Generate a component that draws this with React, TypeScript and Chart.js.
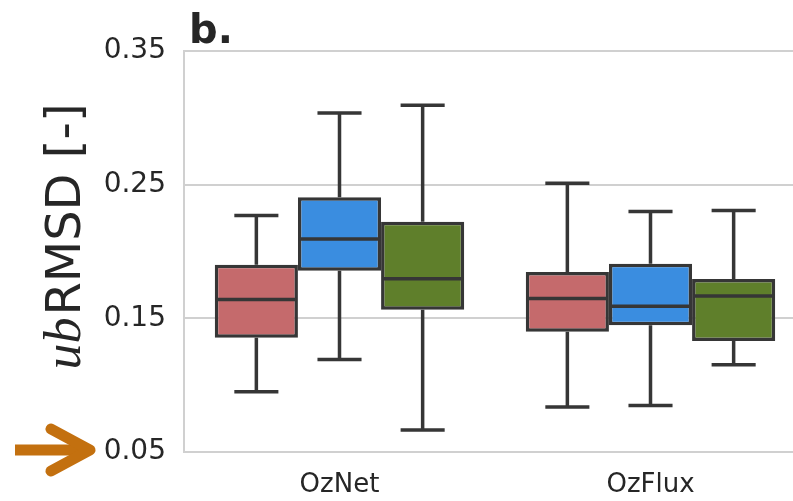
import React, { useEffect, useRef } from "react";
import { Chart, registerables } from "chart.js";

Chart.register(...registerables);

const categories = ["OzNet", "OzFlux"];
const yTickValues = [0.05, 0.15, 0.25, 0.35];

const redMin = [0.0951, 0.0836];
const redQ1 = [0.1354, 0.1399];
const redMedian = [0.164, 0.1649];
const redQ3 = [0.19, 0.1846];
const redMax = [0.2269, 0.251];

const blueMin = [0.1192, 0.0848];
const blueQ1 = [0.1856, 0.1448];
const blueMedian = [0.2093, 0.159];
const blueQ3 = [0.2406, 0.1908];
const blueMax = [0.3037, 0.2299];

const greenMin = [0.0664, 0.1152];
const greenQ1 = [0.1565, 0.1331];
const greenMedian = [0.1796, 0.1667];
const greenQ3 = [0.2222, 0.1794];
const greenMax = [0.3095, 0.2306];

const EDGE = "#363636";
const GRID = "#d0d0d0";

const series = [
  { label: "Red", color: "#c56a6c", min: redMin, q1: redQ1, med: redMedian, q3: redQ3, max: redMax },
  { label: "Blue", color: "#3a8de0", min: blueMin, q1: blueQ1, med: blueMedian, q3: blueQ3, max: blueMax },
  { label: "Green", color: "#5f7f2b", min: greenMin, q1: greenQ1, med: greenMedian, q3: greenQ3, max: greenMax },
];

const boxPlugin = {
  id: "boxWhiskers",
  beforeDatasetsDraw(chart: any) {
    const ctx = chart.ctx;
    const y = chart.scales.y;
    ctx.save();
    ctx.strokeStyle = EDGE;
    ctx.lineWidth = 3.5;
    ctx.lineCap = "butt";
    series.forEach((s, di) => {
      const meta = chart.getDatasetMeta(di);
      meta.data.forEach((el: any, i: number) => {
        const { x, width } = el.getProps(["x", "width"], true);
        const pMin = y.getPixelForValue(s.min[i]);
        const pQ1 = y.getPixelForValue(s.q1[i]);
        const pQ3 = y.getPixelForValue(s.q3[i]);
        const pMax = y.getPixelForValue(s.max[i]);
        const cap = width * 0.53;
        ctx.beginPath();
        ctx.moveTo(x, pQ3);
        ctx.lineTo(x, pMax);
        ctx.moveTo(x, pQ1);
        ctx.lineTo(x, pMin);
        ctx.moveTo(x - cap / 2, pMax);
        ctx.lineTo(x + cap / 2, pMax);
        ctx.moveTo(x - cap / 2, pMin);
        ctx.lineTo(x + cap / 2, pMin);
        ctx.stroke();
      });
    });
    ctx.restore();
  },
  afterDatasetsDraw(chart: any) {
    const ctx = chart.ctx;
    const y = chart.scales.y;
    ctx.save();
    ctx.strokeStyle = EDGE;
    ctx.lineWidth = 3.5;
    series.forEach((s, di) => {
      const meta = chart.getDatasetMeta(di);
      meta.data.forEach((el: any, i: number) => {
        const { x, width } = el.getProps(["x", "width"], true);
        const pMed = y.getPixelForValue(s.med[i]);
        ctx.beginPath();
        ctx.moveTo(x - width / 2 + 1, pMed);
        ctx.lineTo(x + width / 2 - 1, pMed);
        ctx.stroke();
      });
    });
    ctx.restore();
  },
  afterDraw(chart: any) {
    const ctx = chart.ctx;
    const area = chart.chartArea;
    const y = chart.scales.y;
    ctx.save();
    // panel title
    ctx.fillStyle = "#262626";
    ctx.font = "bold 40px 'DejaVu Sans'";
    ctx.textAlign = "left";
    ctx.textBaseline = "alphabetic";
    ctx.fillText("b.", area.left + 5, area.top - 8);

    // y axis label with italic "ub"
    const cy = (area.top + area.bottom) / 2 - 14;
    ctx.translate(80, cy);
    ctx.rotate(-Math.PI / 2);
    const f1 = "italic 52px 'Liberation Serif'";
    const f2 = "48px 'DejaVu Sans'";
    ctx.font = f1;
    const w1 = ctx.measureText("ub").width;
    ctx.font = f2;
    const w2 = ctx.measureText("RMSD [-]").width;
    const start = -(w1 + w2) / 2;
    ctx.font = f1;
    ctx.fillText("ub", start, 0);
    ctx.font = f2;
    ctx.fillText("RMSD [-]", start + w1 + 2, 0);
    ctx.restore();

    // orange arrow pointing at lowest tick
    const ay = y.getPixelForValue(yTickValues[0]) - 2;
    ctx.save();
    ctx.strokeStyle = "#c3700f";
    ctx.lineWidth = 11;
    ctx.lineCap = "butt";
    ctx.beginPath();
    ctx.moveTo(15, ay);
    ctx.lineTo(88, ay);
    ctx.stroke();
    ctx.lineCap = "round";
    ctx.lineJoin = "round";
    ctx.beginPath();
    ctx.moveTo(51, ay - 21);
    ctx.lineTo(90, ay);
    ctx.lineTo(51, ay + 21);
    ctx.stroke();
    ctx.restore();
  },
};

export default function App() {
  const ref = useRef<HTMLCanvasElement | null>(null);
  useEffect(() => {
    if (!ref.current) return;
    const chart = new Chart(ref.current, {
      type: "bar",
      data: {
        labels: categories,
        datasets: series.map((s) => ({
          label: s.label,
          data: s.q1.map((v, i) => [v, s.q3[i]]),
          backgroundColor: s.color,
          borderColor: EDGE,
          borderWidth: 3.5,
          borderSkipped: false,
          categoryPercentage: 0.802,
          barPercentage: 1,
        })),
      },
      options: {
        responsive: false,
        animation: false,
        layout: { padding: { top: 51, right: 4, left: 0, bottom: 0 } },
        plugins: { legend: { display: false }, tooltip: { enabled: false }, title: { display: false } },
        scales: {
          x: {
            offset: true,
            grid: { display: false },
            border: { display: false },
            ticks: {
              color: "#262626",
              font: { family: "'DejaVu Sans'", size: 26 },
              padding: 10,
            },
            afterFit(scale: any) {
              scale.height = 49;
            },
          },
          y: {
            min: 0.05,
            max: 0.35,
            afterBuildTicks(scale: any) {
              scale.ticks = yTickValues.map((v) => ({ value: v }));
            },
            grid: { color: GRID, lineWidth: 2, drawTicks: false },
            border: { display: true, color: GRID, width: 2 },
            ticks: {
              color: "#262626",
              font: { family: "'DejaVu Sans'", size: 28 },
              padding: 18,
              callback: (v: any) => Number(v).toFixed(2),
            },
            afterFit(scale: any) {
              scale.width = 184;
            },
          },
        },
      },
      plugins: [boxPlugin],
    });
    return () => chart.destroy();
  }, []);
  return (
    <div style={{ position: "fixed", left: 0, top: 0, width: 793, height: 501, overflow: "hidden", background: "#fff" }}>
      <canvas ref={ref} width={810} height={501} style={{ width: 810, height: 501, display: "block" }} />
    </div>
  );
}
